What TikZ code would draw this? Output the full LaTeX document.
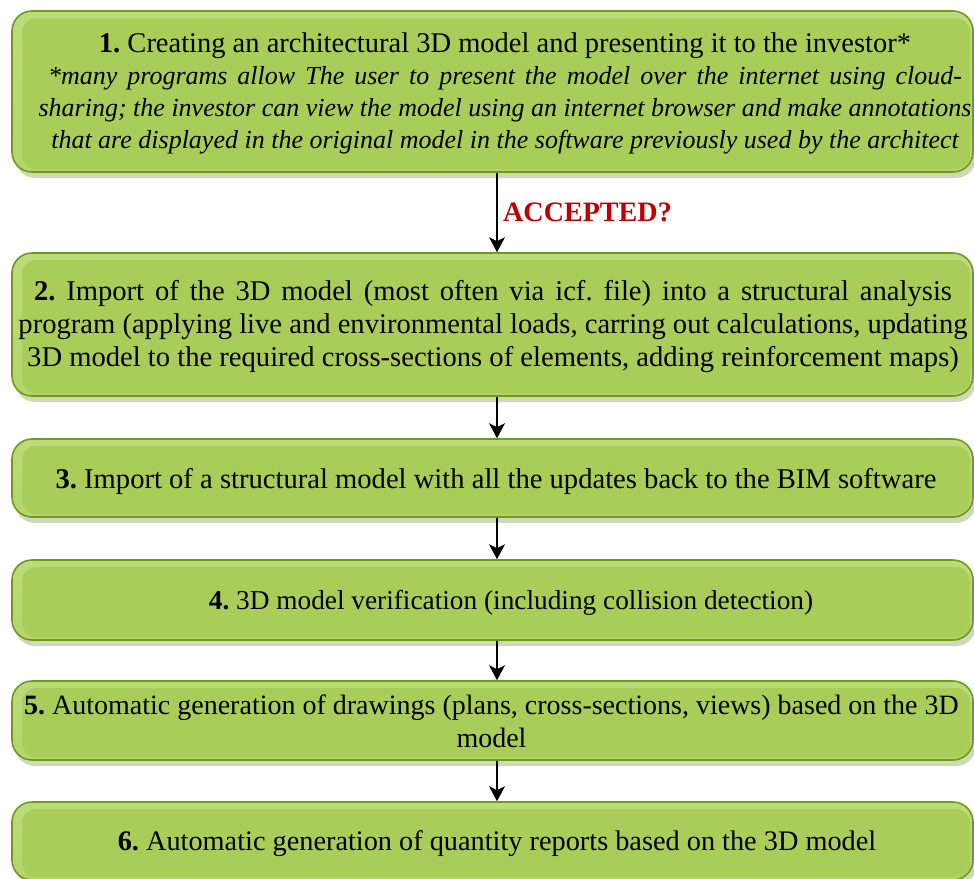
\documentclass[tikz,border=0pt]{standalone}
\usepackage{fontspec}
\setmainfont{Liberation Serif}
\usetikzlibrary{shadows,arrows.meta}
\definecolor{gborder}{HTML}{6E9A1E}
\definecolor{gtop}{HTML}{BCDB7A}
\definecolor{gbot}{HTML}{B4D56A}
\definecolor{ginner}{HTML}{AACD5A}
\definecolor{gshadow}{HTML}{CFD8B8}
\definecolor{redtxt}{HTML}{C00000}
\newcommand{\fsz}[2]{\fontsize{#1}{#2}\selectfont}
\newcommand{\noteline}[1]{{\fsz{26}{32}\itshape #1}}
\tikzset{
  stepbox/.style={rounded corners=20pt, draw=gborder, line width=1.6pt,
    top color=gtop, bottom color=gbot, minimum width=961pt, inner sep=0pt,
    drop shadow={shadow xshift=3pt, shadow yshift=-6pt, fill=gshadow, opacity=1},
    path picture={\fill[ginner, rounded corners=14pt]
      ([xshift=10pt,yshift=-7pt]path picture bounding box.north west) rectangle
      ([xshift=-3pt,yshift=3pt]path picture bounding box.south east);}},
  boxtext/.style={align=center, inner sep=0pt},
  flow/.style={-{Stealth[length=15pt,width=16pt,inset=4pt]}, line width=1.5pt, black},
  asklabel/.style={font=\bfseries\fsz{28.1}{30}, text=redtxt, inner sep=0pt}
}
\begin{document}
\frenchspacing
\begin{tikzpicture}[x=1pt,y=-1pt]
\useasboundingbox (0,0) rectangle (974,878);
\clip (0,0) rectangle (974,878);
\coordinate (ax) at (497,0);
\node[stepbox, minimum height=161pt] (b1) at (492.5,91.5) {};
\node[stepbox, minimum height=143pt] (b2) at (492.5,324.5) {};
\node[stepbox, minimum height=78pt] (b3) at (492.5,478) {};
\node[stepbox, minimum height=80pt] (b4) at (492.5,600) {};
\node[stepbox, minimum height=79pt] (b5) at (492.5,720.5) {};
\node[stepbox, minimum height=78pt] (b6) at (492.5,841) {};
\node[boxtext, font=\fsz{28.5}{32}] (t1) at ([xshift=12.5pt,yshift=-2pt]b1.center)
  {{\bfseries 1.} Creating an architectural 3D model and presenting it to the investor*\\
   \noteline{\makebox[914pt][s]{*many programs allow The user to present the model over the internet using cloud-}}\\
   \noteline{sharing; the investor can view the model using an internet browser and make annotations}\\
   \noteline{that are displayed in the original model in the software previously used by the architect}};
\node[boxtext, font=\fsz{28.6}{33}] (t2) at ([xshift=0.5pt,yshift=-2.5pt]b2.center)
  {\makebox[918pt][s]{{\bfseries 2.} Import of the 3D model (most often via icf. file) into a structural analysis}\\
   program (applying live and environmental loads, carring out calculations, updating\\
   3D model to the required cross-sections of elements, adding reinforcement maps)};
\node[boxtext, font=\fsz{28.6}{33}] (t3) at ([xshift=3.5pt,yshift=-3pt]b3.center)
  {{\bfseries 3.} Import of a structural model with all the updates back to the BIM software};
\node[boxtext, font=\fsz{27.3}{33}] (t4) at ([xshift=18.5pt,yshift=-3pt]b4.center)
  {{\bfseries 4.} 3D model verification (including collision detection)};
\node[boxtext, font=\fsz{28}{33}] (t5) at ([xshift=-1pt,yshift=-0.5pt]b5.center)
  {{\bfseries 5.} Automatic generation of drawings (plans, cross-sections, views) based on the 3D\\
   model};
\node[boxtext, font=\fsz{28.3}{33}] (t6) at ([xshift=4.5pt,yshift=-3pt]b6.center)
  {{\bfseries 6.} Automatic generation of quantity reports based on the 3D model};
\node[asklabel] (acc) at (587.5,212) {ACCEPTED?};
\draw[flow] (b1.south -| ax) -- (b2.north -| ax);
\draw[flow] (b2.south -| ax) -- (b3.north -| ax);
\draw[flow] (b3.south -| ax) -- (b4.north -| ax);
\draw[flow] (b4.south -| ax) -- (b5.north -| ax);
\draw[flow] (b5.south -| ax) -- (b6.north -| ax);
\end{tikzpicture}
\end{document}
